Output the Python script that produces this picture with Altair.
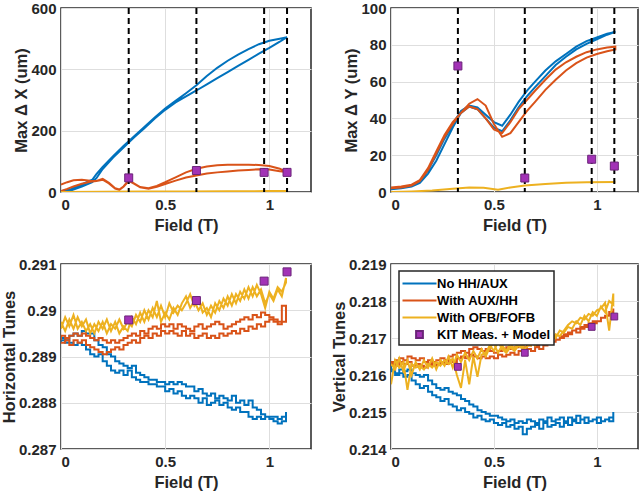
import altair as alt
import pandas as pd

FONT = "Liberation Sans"
BLUE = "#0072BD"
ORANGE = "#D95319"
YELLOW = "#EDB120"
KIT_FILL = "#A232B6"
KIT_EDGE = "#6B2479"
SERIES = ["No HH/AUX", "With AUX/HH", "With OFB/FOFB", "KIT Meas. + Model"]

# KIT measurement + model points
KIT_FIELD = [0.325, 0.65, 0.975, 1.085]
KIT_DX = [46, 70, 64, 64]
KIT_DY = [68.5, 7.6, 17.8, 14.1]
KIT_NUX = [0.28979, 0.29021, 0.29063, 0.29083]
KIT_NUY = [0.21622, 0.21660, 0.21730, 0.21758]

# ---- Max dX (um)
DX_FIELD = [0, 0.05, 0.1, 0.15, 0.17, 0.2, 0.25, 0.3, 0.35, 0.4, 0.45, 0.5, 0.55, 0.6,
            0.65, 0.7, 0.75, 0.8, 0.85, 0.9, 0.95, 1.0, 1.05, 1.085]
DX_BLUE_UP = [0, 6, 18, 32, 45, 75, 112, 145, 178, 208, 240, 268, 292, 312, 331, 351, 371,
              391, 411, 431, 451, 470, 490, 505]
DX_BLUE_DN = [2, 10, 25, 40, 58, 82, 117, 150, 181, 212, 243, 272, 297, 322, 348, 378, 405,
              428, 448, 466, 482, 493, 500, 505]
DX_FIELD2 = [0, 0.03, 0.06, 0.1, 0.14, 0.17, 0.2, 0.23, 0.26, 0.28, 0.3, 0.325, 0.35, 0.38,
             0.42, 0.46, 0.5, 0.55, 0.6, 0.65, 0.7, 0.75, 0.8, 0.85, 0.9, 0.95, 1.0, 1.05, 1.085]
DX_ORANGE_UP = [3, 10, 18, 27, 33, 36, 40, 28, 11, 7, 17, 36, 27, 15, 11, 17, 26, 37, 47, 54,
                60, 64, 67, 70, 72, 74, 73, 68, 65]
DX_ORANGE_DN = [24, 32, 38, 40, 37, 36, 43, 30, 12, 8, 18, 38, 28, 16, 12, 20, 32, 48, 64, 76,
                83, 87, 89, 89, 89, 88, 85, 76, 65]
DX_YELLOW_FIELD = [0, 0.2, 0.4, 0.6, 0.8, 1.0, 1.085]
DX_YELLOW = [0, 1, 1.5, 1.5, 2.5, 3, 3]

# ---- Max dY (um)
DY_FIELD = [0, 0.05, 0.1, 0.14, 0.18, 0.22, 0.26, 0.3, 0.34, 0.38, 0.42, 0.46, 0.5, 0.54,
            0.58, 0.62, 0.66, 0.7, 0.75, 0.8, 0.85, 0.9, 0.95, 1.0, 1.05, 1.09]
DY_BLUE_UP = [1.5, 2, 3, 5, 10, 17, 26, 35, 43, 46.5, 45, 40, 35, 33, 39, 46, 52, 57, 63, 69,
              73.5, 77.5, 80.5, 83, 85.5, 87]
DY_BLUE_DN = [2, 2.5, 3.5, 6, 12, 20, 29, 37, 44, 47, 46, 42, 38, 36, 42, 49, 55, 60, 66, 71,
              75, 79, 82, 84, 86, 87]
DY_ORANGE_UP = [2, 2.5, 3.5, 6, 12, 21, 30, 37, 43, 48, 50.5, 47, 37, 30, 32, 38, 44, 49, 55.5,
                61, 66, 70, 73, 75, 76.5, 77.5]
DY_ORANGE_DN = [2.5, 3, 4, 6.5, 13, 22, 31, 38, 43, 46.5, 45, 40, 34, 32, 38, 45, 50, 55, 61,
                66.5, 70.5, 73.5, 76, 77.5, 78.5, 79]
DY_YELLOW_FIELD = [0, 0.1, 0.2, 0.3, 0.38, 0.45, 0.52, 0.58, 0.65, 0.75, 0.85, 0.95, 1.09]
DY_YELLOW = [0, 0.3, 0.8, 1.8, 2.5, 2.3, 1.2, 2.5, 3.5, 4.3, 5, 5.3, 5.5]

# ---- Tunes
FIELD_T = [0.00, 0.02, 0.04, 0.06, 0.08, 0.10, 0.12, 0.14, 0.16, 0.18,
           0.20, 0.22, 0.24, 0.26, 0.28, 0.30, 0.32, 0.34, 0.36, 0.38,
           0.40, 0.42, 0.44, 0.46, 0.48, 0.50, 0.52, 0.54, 0.56, 0.58,
           0.60, 0.62, 0.64, 0.66, 0.68, 0.70, 0.72, 0.74, 0.76, 0.78,
           0.80, 0.82, 0.84, 0.86, 0.88, 0.90, 0.92, 0.94, 0.96, 0.98,
           1.00, 1.02, 1.04, 1.06, 1.08]

NUX_BLUE_UP = [0.28940, 0.28935, 0.28945, 0.28950, 0.28945, 0.28955, 0.28950, 0.28950, 0.28935, 0.28925,
               0.28920, 0.28905, 0.28900, 0.28890, 0.28885, 0.28880, 0.28875, 0.28880, 0.28865, 0.28860,
               0.28855, 0.28850, 0.28850, 0.28845, 0.28845, 0.28840, 0.28845, 0.28840, 0.28845, 0.28840,
               0.28835, 0.28835, 0.28825, 0.28830, 0.28820, 0.28815, 0.28820, 0.28810, 0.28815, 0.28810,
               0.28805, 0.28815, 0.28800, 0.28805, 0.28795, 0.28805, 0.28790, 0.28785, 0.28775, 0.28770,
               0.28770, 0.28770, 0.28765, 0.28770, 0.28780]
NUX_BLUE_DN = [0.28930, 0.28935, 0.28930, 0.28930, 0.28925, 0.28930, 0.28925, 0.28915, 0.28905, 0.28900,
               0.28905, 0.28890, 0.28880, 0.28870, 0.28865, 0.28870, 0.28860, 0.28870, 0.28855, 0.28850,
               0.28845, 0.28845, 0.28840, 0.28840, 0.28835, 0.28835, 0.28825, 0.28830, 0.28820, 0.28825,
               0.28815, 0.28810, 0.28815, 0.28810, 0.28800, 0.28810, 0.28795, 0.28800, 0.28805, 0.28795,
               0.28800, 0.28790, 0.28785, 0.28790, 0.28780, 0.28780, 0.28770, 0.28765, 0.28770, 0.28765,
               0.28770, 0.28765, 0.28760, 0.28755, 0.28760]
NUX_ORANGE_UP = [0.28930, 0.28935, 0.28925, 0.28935, 0.28930, 0.28935, 0.28925, 0.28920, 0.28915, 0.28910,
                 0.28905, 0.28910, 0.28915, 0.28920, 0.28915, 0.28925, 0.28930, 0.28935, 0.28930, 0.28940,
                 0.28945, 0.28940, 0.28950, 0.28945, 0.28955, 0.28950, 0.28955, 0.28950, 0.28945, 0.28955,
                 0.28945, 0.28950, 0.28940, 0.28945, 0.28950, 0.28940, 0.28945, 0.28940, 0.28950, 0.28945,
                 0.28950, 0.28955, 0.28950, 0.28960, 0.28955, 0.28965, 0.28960, 0.28970, 0.28965, 0.28975,
                 0.28980, 0.28975, 0.28970, 0.28975, 0.28980]
NUX_ORANGE_DN = [0.28935, 0.28945, 0.28940, 0.28945, 0.28950, 0.28945, 0.28950, 0.28945, 0.28940, 0.28935,
                 0.28940, 0.28935, 0.28930, 0.28935, 0.28930, 0.28935, 0.28940, 0.28945, 0.28950, 0.28945,
                 0.28955, 0.28950, 0.28960, 0.28965, 0.28960, 0.28970, 0.28965, 0.28970, 0.28960, 0.28970,
                 0.28965, 0.28960, 0.28955, 0.28965, 0.28970, 0.28960, 0.28965, 0.28970, 0.28975, 0.28970,
                 0.28960, 0.28965, 0.28970, 0.28975, 0.28980, 0.28985, 0.28980, 0.28990, 0.28985, 0.28995,
                 0.28990, 0.28985, 0.28980, 0.28975, 0.29010]
NUX_YELLOW_UP = [0.28960, 0.28985, 0.28965, 0.28990, 0.28960, 0.28975, 0.28955, 0.28970, 0.28950, 0.28975,
                 0.28960, 0.28980, 0.28955, 0.28975, 0.28950, 0.28965, 0.28955, 0.28985, 0.28970, 0.28995,
                 0.28975, 0.29000, 0.28985, 0.29020, 0.28975, 0.28995, 0.28980, 0.29005, 0.28990, 0.29015,
                 0.29030, 0.29005, 0.29020, 0.29000, 0.29015, 0.28990, 0.29010, 0.28995, 0.29020, 0.29005,
                 0.29030, 0.29010, 0.29035, 0.29020, 0.29045, 0.29025, 0.29050, 0.29030, 0.29045, 0.29015,
                 0.29035, 0.29020, 0.29045, 0.29030, 0.29070]
NUX_YELLOW_DN = [0.28975, 0.28955, 0.28980, 0.28960, 0.28985, 0.28965, 0.28980, 0.28950, 0.28970, 0.28955,
                 0.28975, 0.28950, 0.28970, 0.28960, 0.28980, 0.28960, 0.28975, 0.28965, 0.28990, 0.28975,
                 0.29000, 0.28980, 0.29005, 0.28985, 0.29010, 0.28985, 0.29015, 0.28995, 0.29010, 0.29000,
                 0.29015, 0.29035, 0.29010, 0.29025, 0.28995, 0.29005, 0.28985, 0.29015, 0.29000, 0.29025,
                 0.29010, 0.29035, 0.29015, 0.29040, 0.29025, 0.29050, 0.29030, 0.29055, 0.29035, 0.29005,
                 0.29040, 0.29025, 0.29050, 0.29040, 0.29060]

NUY_BLUE_UP = [0.21615, 0.21605, 0.21615, 0.21610, 0.21615, 0.21605, 0.21600, 0.21595, 0.21600, 0.21585,
               0.21575, 0.21565, 0.21560, 0.21565, 0.21555, 0.21550, 0.21545, 0.21535, 0.21530, 0.21520,
               0.21515, 0.21505, 0.21500, 0.21495, 0.21490, 0.21490, 0.21485, 0.21480, 0.21475, 0.21480,
               0.21470, 0.21475, 0.21470, 0.21480, 0.21475, 0.21470, 0.21480, 0.21475, 0.21485, 0.21475,
               0.21480, 0.21485, 0.21475, 0.21485, 0.21480, 0.21490, 0.21480, 0.21485, 0.21475, 0.21480,
               0.21485, 0.21475, 0.21480, 0.21485, 0.21500]
NUY_BLUE_DN = [0.21625, 0.21610, 0.21600, 0.21605, 0.21595, 0.21600, 0.21585, 0.21575, 0.21565, 0.21570,
               0.21555, 0.21545, 0.21540, 0.21530, 0.21535, 0.21520, 0.21515, 0.21505, 0.21510, 0.21500,
               0.21495, 0.21485, 0.21490, 0.21480, 0.21475, 0.21480, 0.21470, 0.21465, 0.21470, 0.21460,
               0.21465, 0.21455, 0.21460, 0.21440, 0.21455, 0.21460, 0.21465, 0.21455, 0.21470, 0.21460,
               0.21465, 0.21470, 0.21460, 0.21470, 0.21465, 0.21475, 0.21470, 0.21480, 0.21470, 0.21475,
               0.21480, 0.21470, 0.21475, 0.21480, 0.21475]
NUY_ORANGE_UP = [0.21635, 0.21640, 0.21645, 0.21640, 0.21650, 0.21645, 0.21640, 0.21645, 0.21635, 0.21640,
                 0.21635, 0.21640, 0.21645, 0.21640, 0.21650, 0.21655, 0.21660, 0.21665, 0.21660, 0.21670,
                 0.21675, 0.21670, 0.21665, 0.21670, 0.21665, 0.21660, 0.21665, 0.21670, 0.21675, 0.21670,
                 0.21675, 0.21680, 0.21675, 0.21680, 0.21685, 0.21680, 0.21690, 0.21685, 0.21690, 0.21700,
                 0.21695, 0.21705, 0.21710, 0.21715, 0.21720, 0.21725, 0.21730, 0.21735, 0.21740, 0.21745,
                 0.21745, 0.21755, 0.21760, 0.21770, 0.21780]
NUY_ORANGE_DN = [0.21625, 0.21630, 0.21625, 0.21635, 0.21630, 0.21635, 0.21625, 0.21630, 0.21625, 0.21620,
                 0.21630, 0.21625, 0.21630, 0.21635, 0.21630, 0.21640, 0.21635, 0.21645, 0.21650, 0.21645,
                 0.21655, 0.21650, 0.21645, 0.21650, 0.21645, 0.21650, 0.21645, 0.21655, 0.21650, 0.21655,
                 0.21660, 0.21655, 0.21665, 0.21660, 0.21670, 0.21665, 0.21675, 0.21670, 0.21680, 0.21685,
                 0.21690, 0.21695, 0.21700, 0.21705, 0.21710, 0.21720, 0.21715, 0.21725, 0.21730, 0.21735,
                 0.21740, 0.21745, 0.21755, 0.21760, 0.21770]
NUY_YELLOW_UP = [0.21575, 0.21640, 0.21620, 0.21635, 0.21560, 0.21630, 0.21620, 0.21625, 0.21615, 0.21630,
                 0.21620, 0.21635, 0.21625, 0.21640, 0.21630, 0.21645, 0.21600, 0.21565, 0.21640, 0.21575,
                 0.21650, 0.21595, 0.21655, 0.21660, 0.21680, 0.21665, 0.21690, 0.21670, 0.21660, 0.21675,
                 0.21665, 0.21680, 0.21670, 0.21675, 0.21690, 0.21680, 0.21695, 0.21685, 0.21700, 0.21690,
                 0.21710, 0.21705, 0.21720, 0.21735, 0.21745, 0.21740, 0.21755, 0.21750, 0.21765, 0.21760,
                 0.21775, 0.21780, 0.21795, 0.21720, 0.21820]
NUY_YELLOW_DN = [0.21630, 0.21615, 0.21645, 0.21610, 0.21640, 0.21600, 0.21635, 0.21615, 0.21640, 0.21620,
                 0.21645, 0.21615, 0.21640, 0.21625, 0.21650, 0.21620, 0.21655, 0.21635, 0.21660, 0.21640,
                 0.21665, 0.21645, 0.21670, 0.21650, 0.21675, 0.21685, 0.21660, 0.21680, 0.21665, 0.21685,
                 0.21670, 0.21690, 0.21675, 0.21695, 0.21680, 0.21700, 0.21685, 0.21705, 0.21695, 0.21715,
                 0.21700, 0.21720, 0.21715, 0.21730, 0.21725, 0.21745, 0.21735, 0.21760, 0.21745, 0.21770,
                 0.21760, 0.21785, 0.21770, 0.21800, 0.21790]


def loop(name, x, up, dn):
    xs = list(x) + list(x)[::-1]
    ys = list(up) + list(dn)[::-1]
    return pd.DataFrame({"series": name, "k": list(range(len(xs))), "field": xs, "value": ys})


def kit_df(vals):
    return pd.DataFrame({"series": SERIES[3], "field": KIT_FIELD, "value": vals})


LINE_SYM = "M-2,0H2"
SQ_SYM = "M-0.4,-0.4H0.4V0.4H-0.4Z"


def panel(lines, kit_vals, ytitle, ydom, yvals, yfmt, w, h, dashed=False, legend=False):
    xsc = alt.Scale(domain=[0, 1.2], nice=False, zero=False)
    ysc = alt.Scale(domain=ydom, nice=False, zero=False)
    xax = alt.Axis(title="Field (T)", values=[0, 0.5, 1], format="~g",
                   labelPadding=5, titlePadding=5)
    yax = alt.Axis(title=ytitle, values=yvals, format=yfmt, labelPadding=5, titlePadding=1)
    X = alt.X("field:Q", scale=xsc, axis=xax)
    Y = alt.Y("value:Q", scale=ysc, axis=yax)
    stroke_sc = alt.Scale(domain=SERIES, range=[BLUE, ORANGE, YELLOW, KIT_EDGE])
    fill_sc = alt.Scale(domain=SERIES, range=[BLUE, ORANGE, YELLOW, KIT_FILL])
    shape_sc = alt.Scale(domain=SERIES, range=[LINE_SYM, LINE_SYM, LINE_SYM, SQ_SYM])
    leg = alt.Legend(title=None, orient="none", legendX=8, legendY=7)
    layers = []
    for df, color, interp in lines:
        if legend:
            layers.append(alt.Chart(df).mark_line(strokeWidth=2, interpolate=interp, clip=True)
                          .encode(x=X, y=Y, order="k:Q",
                                  stroke=alt.Stroke("series:N", scale=stroke_sc, legend=leg)))
        else:
            layers.append(alt.Chart(df).mark_line(color=color, strokeWidth=2, interpolate=interp,
                                                  clip=True)
                          .encode(x=X, y=Y, order="k:Q"))
    kd = kit_df(kit_vals)
    if dashed:
        layers.append(alt.Chart(kd).mark_rule(color="black", strokeWidth=2, strokeDash=[6, 4])
                      .encode(x=X))
    if legend:
        layers.append(alt.Chart(kd).mark_point(filled=True, opacity=1, size=289, strokeWidth=1)
                      .encode(x=X, y=Y,
                              fill=alt.Fill("series:N", scale=fill_sc, legend=leg),
                              stroke=alt.Stroke("series:N", scale=stroke_sc, legend=leg),
                              shape=alt.Shape("series:N", scale=shape_sc, legend=leg)))
    else:
        layers.append(alt.Chart(kd).mark_point(filled=True, opacity=1, size=64, shape="square",
                                               fill=KIT_FILL, stroke=KIT_EDGE, strokeWidth=1)
                      .encode(x=X, y=Y))
    return alt.layer(*layers).properties(width=w, height=h)


p1 = panel([(loop(SERIES[0], DX_FIELD, DX_BLUE_UP, DX_BLUE_DN), BLUE, "linear"),
            (loop(SERIES[1], DX_FIELD2, DX_ORANGE_UP, DX_ORANGE_DN), ORANGE, "linear"),
            (loop(SERIES[2], DX_YELLOW_FIELD, DX_YELLOW, DX_YELLOW), YELLOW, "linear")],
           KIT_DX, "Max \u0394 X (um)", [0, 600], [0, 200, 400, 600], "d", 250, 184, dashed=True)
p2 = panel([(loop(SERIES[0], DY_FIELD, DY_BLUE_UP, DY_BLUE_DN), BLUE, "linear"),
            (loop(SERIES[1], DY_FIELD, DY_ORANGE_UP, DY_ORANGE_DN), ORANGE, "linear"),
            (loop(SERIES[2], DY_YELLOW_FIELD, DY_YELLOW, DY_YELLOW), YELLOW, "linear")],
           KIT_DY, "Max \u0394 Y (um)", [0, 100], [0, 20, 40, 60, 80, 100], "d", 247, 184,
           dashed=True)
p3 = panel([(loop(SERIES[0], FIELD_T, NUX_BLUE_UP, NUX_BLUE_DN), BLUE, "step-after"),
            (loop(SERIES[1], FIELD_T, NUX_ORANGE_UP, NUX_ORANGE_DN), ORANGE, "step-after"),
            (loop(SERIES[2], FIELD_T, NUX_YELLOW_UP, NUX_YELLOW_DN), YELLOW, "linear")],
           KIT_NUX, "Horizontal Tunes", [0.287, 0.291], [0.287, 0.288, 0.289, 0.29, 0.291], "~g",
           250, 185)
p4 = panel([(loop(SERIES[0], FIELD_T, NUY_BLUE_UP, NUY_BLUE_DN), BLUE, "step-after"),
            (loop(SERIES[1], FIELD_T, NUY_ORANGE_UP, NUY_ORANGE_DN), ORANGE, "step-after"),
            (loop(SERIES[2], FIELD_T, NUY_YELLOW_UP, NUY_YELLOW_DN), YELLOW, "linear")],
           KIT_NUY, "Vertical Tunes", [0.214, 0.219], [0.214, 0.215, 0.216, 0.217, 0.218, 0.219],
           "~g", 247, 185, legend=True)

chart = alt.concat(p1, p2, p3, p4, columns=2, spacing={"row": 72, "column": 80},
                   bounds="flush").resolve_scale(
    stroke="independent", fill="independent", shape="independent"
).resolve_legend(
    stroke="independent", fill="independent", shape="independent"
).properties(
    padding={"left": 0, "top": 0, "right": 0, "bottom": 0}, background="white"
).configure_view(stroke="#262626", strokeWidth=1.5).configure_axis(
    labelFont=FONT, labelFontSize=15, labelFontWeight="bold", labelColor="#262626",
    titleFont=FONT, titleFontSize=16.5, titleFontWeight="bold", titleColor="#262626",
    gridColor="#DEDEDE", gridWidth=1, domain=False, ticks=False,
).configure_legend(
    labelFont=FONT, labelFontSize=13, labelFontWeight="bold", labelColor="black",
    strokeColor="#262626", fillColor="white", padding=3, rowPadding=0, symbolSize=289,
    symbolStrokeWidth=2, labelOffset=8, symbolOffset=8, cornerRadius=0, strokeWidth=1.5,
)

chart.save("out.html", embed_options={"renderer": "svg", "actions": False})
